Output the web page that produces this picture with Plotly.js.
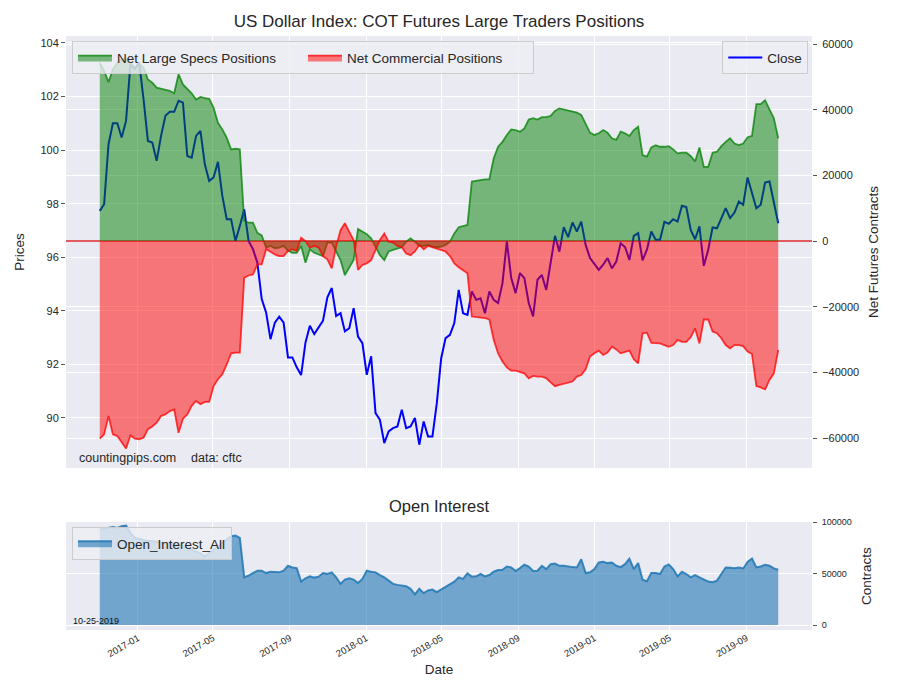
<!DOCTYPE html>
<html>
<head>
<meta charset="utf-8">
<script src="https://cdn.plot.ly/plotly-3.0.1.min.js"></script>
<style>
  body { margin: 0; background: #fff; }
  #grafico { width: 900px; height: 700px; }
</style>
</head>
<body>
<div id="grafico"></div>
<script>
// weekly COT report data, first report 2016-11-01, last 2019-10-22
const firstReport = '2016-11-01';

const closes = [
  97.73, 97.98, 100.22, 101.00, 101.00, 100.47, 101.09, 103.20, 103.02, 103.27,
  101.90, 100.34, 100.28, 99.60, 100.53, 101.28, 101.43, 101.43, 101.84, 101.77,
  99.78, 99.72, 100.53, 100.72, 99.47, 98.85, 98.98, 99.56, 98.29, 97.42,
  97.42, 96.61, 97.17, 97.79, 96.61, 96.30, 95.80, 94.44, 93.94, 92.94,
  93.56, 93.78, 93.56, 92.26, 92.26, 91.89, 91.60, 92.82, 93.44, 93.13,
  93.38, 93.63, 94.50, 94.85, 93.80, 93.91, 93.23, 93.35, 94.10, 93.04,
  92.79, 91.61, 92.30, 90.18, 89.93, 89.06, 89.50, 89.62, 89.68, 90.31,
  89.62, 89.68, 90.00, 89.00, 89.87, 89.31, 89.31, 90.55, 92.23, 92.98,
  93.10, 93.54, 94.78, 93.91, 93.85, 94.72, 94.41, 94.47, 93.91, 94.72,
  94.41, 94.29, 95.03, 96.59, 95.22, 94.66, 95.41, 95.22, 94.29, 93.79,
  95.16, 95.34, 94.78, 95.78, 96.80, 96.21, 97.12, 96.75, 97.30, 96.96,
  97.33, 96.46, 95.97, 95.75, 95.53, 95.72, 95.97, 95.58, 95.84, 96.52,
  96.38, 95.90, 96.80, 96.90, 95.88, 96.28, 96.96, 96.65, 96.65, 97.32,
  97.25, 97.42, 97.33, 97.92, 97.87, 97.02, 96.67, 97.15, 95.68, 96.28,
  97.11, 97.08, 97.46, 97.83, 97.46, 97.67, 98.08, 97.96, 98.98, 98.39,
  97.83, 97.96, 98.79, 98.83, 98.08, 97.27
];

const netSpecs = [
  54300, 51800, 48400, 52300, 54300, 55300, 55500, 54300, 52800, 53800,
  52800, 49200, 48200, 46700, 46400, 46000, 45700, 45000, 50800, 47700,
  46400, 45000, 43100, 43900, 43500, 43300, 40600, 36000, 34000, 31500,
  27900, 28100, 27900, 6100, 5600, 5600, 2500, 1700, -2000, -1500,
  -2200, -2000, -1500, -3000, -3600, -3600, -1500, -6600, -2500, -3600,
  -4100, -4600, -500, -500, -3200, -5800, -10400, -8300, -5800, 3700,
  2800, 2100, 800, -1700, -4300, -5800, -3200, -2700, -2200, -1900,
  -200, 800, -200, -1500, -1500, -1200, -1700, -1900, -1700, -1200,
  -200, 2300, 4200, 4600, 4900, 18100, 18400, 18600, 18800, 18800,
  25200, 28700, 30200, 32300, 34000, 33800, 33300, 34300, 37000, 37400,
  37000, 37700, 37700, 38100, 39600, 40400, 40100, 39900, 39400, 39100,
  38400, 35800, 33000, 32300, 32800, 33800, 33000, 31300, 30800, 33300,
  32800, 32000, 33800, 34800, 26200, 25700, 28500, 29200, 28700, 28700,
  28900, 27900, 26700, 26900, 26900, 25900, 24200, 28500, 22600, 22600,
  26900, 27200, 28900, 30200, 31300, 29700, 29200, 29700, 31600, 32000,
  41700, 41700, 42900, 40100, 37400, 31300
];

const netCommercial = [
  -60200, -58900, -53300, -58900, -59400, -61400, -63200, -59200, -60200, -60400,
  -59900, -57300, -56500, -55300, -53300, -52800, -51800, -51300, -58400, -54100,
  -52800, -50200, -48700, -49700, -49000, -49000, -44200, -42100, -40600, -37600,
  -34200, -34000, -34000, -11200, -10500, -10200, -7100, -7100, -2500, -3300,
  -4100, -4600, -4600, -3000, -2500, -3000, 1000, 0, -2000, -1500,
  -2000, -4600, -5600, -8300, -1700, 3300, 5400, 2800, 300, -8800,
  -7300, -6800, -5800, -2700, 300, 2300, -200, -500, -1500, -1900,
  -3800, -4300, -3200, -1200, -2500, -1500, -1900, -2500, -2700, -3200,
  -4600, -6800, -8000, -9000, -9800, -23000, -23200, -23200, -23500, -23900,
  -30100, -34200, -36700, -38500, -39500, -39500, -39800, -40300, -41800, -41100,
  -41300, -41300, -41800, -43100, -44200, -43800, -43500, -43300, -42800, -41300,
  -40800, -39100, -35200, -34200, -33400, -34700, -34000, -32200, -33000, -34200,
  -33700, -33400, -36000, -37300, -28100, -27900, -31000, -31200, -31200, -31700,
  -32200, -31700, -30100, -30700, -30700, -29300, -26600, -31200, -23900, -23900,
  -27600, -28100, -29600, -31700, -32700, -31700, -31700, -32000, -33700, -34400,
  -44200, -44600, -45200, -42300, -40300, -33200
];

const openInterest = [
  93000, 93600, 94500, 95500, 94500, 96200, 96800, 89700, 84900, 84000,
  82700, 81700, 81700, 80800, 80100, 79500, 80100, 78500, 77600, 76900,
  75300, 73700, 72100, 69900, 66700, 69900, 73700, 76900, 80100, 83300,
  86500, 87200, 84900, 46500, 48100, 50600, 52900, 52900, 50600, 51900,
  51900, 51300, 52900, 57700, 56100, 55400, 42300, 45500, 47400, 46200,
  47100, 50600, 49700, 51300, 46500, 40100, 44200, 45500, 44200, 41000,
  44900, 52900, 51900, 51300, 48700, 46500, 43300, 40100, 39100, 38500,
  37800, 35300, 29800, 35300, 31100, 33700, 34600, 32100, 34600, 36900,
  39100, 42300, 46500, 44900, 50300, 47100, 47400, 49700, 47400, 48700,
  51900, 53500, 53800, 57000, 56100, 52600, 55400, 58700, 57000, 52600,
  52900, 57700, 54500, 59300, 59900, 57700, 57700, 56700, 56400, 56100,
  64100, 50600, 51300, 54500, 60900, 61500, 60300, 60900, 57700, 56400,
  59300, 64700, 54500, 60300, 44200, 42600, 50600, 50600, 49700, 57000,
  59000, 54500, 47400, 51900, 49700, 46500, 48700, 46500, 44200, 42300,
  41700, 43300, 49700, 56100, 55800, 55400, 56100, 55100, 61500, 64700,
  56100, 57000, 58700, 57700, 55100, 53800
];

// datas semanais dos relatorios
var datas = [];
var d0 = new Date(firstReport + 'T00:00:00Z');
for (var i = 0; i < closes.length; i++) {
  var d = new Date(d0.getTime() + i * 7 * 86400000);
  datas.push(d.toISOString().slice(0, 10));
}

var fonte = 'Liberation Sans, Arial, sans-serif';
var caixaLegenda = {
  bgcolor: 'rgba(238,238,244,0.8)',
  bordercolor: '#cccccc',
  borderwidth: 1,
  itemwidth: 34,
  font: {size: 13.5, color: '#262626'}
};

var trClose = {
  x: datas, y: closes, name: 'Close',
  type: 'scatter', mode: 'lines',
  xaxis: 'x', yaxis: 'y',
  line: {color: '#0000ff', width: 2},
  legend: 'legend2'
};

var trSpecs = {
  x: datas, y: netSpecs, name: 'Net Large Specs Positions',
  type: 'scatter', mode: 'lines', fill: 'tozeroy',
  fillcolor: 'rgba(0,128,0,0.5)',
  xaxis: 'x', yaxis: 'y2',
  line: {color: 'rgba(0,128,0,0.75)', width: 1.8},
  legend: 'legend'
};

var trComm = {
  x: datas, y: netCommercial, name: 'Net Commercial Positions',
  type: 'scatter', mode: 'lines', fill: 'tozeroy',
  fillcolor: 'rgba(255,0,0,0.5)',
  xaxis: 'x', yaxis: 'y2',
  line: {color: 'rgba(255,0,0,0.75)', width: 1.8},
  legend: 'legend'
};

var trOI = {
  x: datas, y: openInterest, name: 'Open_Interest_All',
  type: 'scatter', mode: 'lines', fill: 'tozeroy',
  fillcolor: 'rgba(31,119,180,0.6)',
  xaxis: 'x2', yaxis: 'y3',
  line: {color: 'rgba(31,119,180,0.85)', width: 2},
  legend: 'legend3'
};

var eixoX = {
  type: 'date',
  range: ['2016-09-08', '2019-12-15'],
  tick0: '2017-01-01', dtick: 'M4',
  gridcolor: '#ffffff', gridwidth: 1,
  zeroline: false, showline: false
};

var layout = {
  width: 900, height: 700,
  paper_bgcolor: '#ffffff',
  plot_bgcolor: '#eaeaf2',
  font: {family: fonte, color: '#262626', size: 11},
  margin: {l: 66, r: 88, t: 36, b: 70},
  showlegend: true,
  title: {
    text: 'US Dollar Index: COT Futures Large Traders Positions',
    font: {size: 17, color: '#262626'},
    xref: 'paper', x: 0.5, xanchor: 'center',
    yref: 'container', y: 0.97, yanchor: 'middle'
  },
  xaxis: Object.assign({}, eixoX, {
    domain: [0, 1], anchor: 'y', showticklabels: false, ticks: ''
  }),
  xaxis2: Object.assign({}, eixoX, {
    domain: [0, 1], anchor: 'y3', matches: 'x',
    tickformat: '%Y-%m', tickangle: -30,
    tickfont: {size: 9.5, color: '#262626'},
    ticks: '',
    title: {text: 'Date', font: {size: 13.5}, standoff: 6}
  }),
  yaxis: {
    domain: [0.2727, 1], anchor: 'x',
    range: [88.13, 104.26], tick0: 90, dtick: 2,
    ticks: 'outside', ticklen: 4, tickcolor: '#555555',
    tickfont: {size: 11},
    gridcolor: '#ffffff', zeroline: false, showline: false,
    title: {text: 'Prices', font: {size: 13.5}, standoff: 12}
  },
  yaxis2: {
    overlaying: 'y', side: 'right', anchor: 'x',
    range: [-69137, 62436], tick0: 0, dtick: 20000, tickformat: 'd',
    ticks: 'outside', ticklen: 4, tickcolor: '#555555',
    ticklabelstandoff: 3,
    tickfont: {size: 11},
    gridcolor: '#ffffff',
    zeroline: true, zerolinecolor: 'rgba(220,30,30,0.7)', zerolinewidth: 1.2,
    showline: false,
    title: {text: 'Net Futures Contracts', font: {size: 13.5}, standoff: 10}
  },
  yaxis3: {
    domain: [0, 0.1818], anchor: 'x2', side: 'right',
    range: [-4800, 100300], tickvals: [0, 50000, 100000], tickformat: 'd',
    ticks: 'outside', ticklen: 4, tickcolor: '#555555',
    ticklabelstandoff: 3,
    tickfont: {size: 9},
    gridcolor: '#ffffff', zeroline: false, showline: false,
    title: {text: 'Contracts', font: {size: 13.5}, standoff: 10}
  },
  legend: Object.assign({}, caixaLegenda, {
    x: 0.008, y: 0.991, xanchor: 'left', yanchor: 'top',
    orientation: 'h', entrywidth: 181
  }),
  legend2: Object.assign({}, caixaLegenda, {
    x: 0.995, y: 0.991, xanchor: 'right', yanchor: 'top'
  }),
  legend3: Object.assign({}, caixaLegenda, {
    x: 0.008, y: 0.1734, xanchor: 'left', yanchor: 'top'
  }),
  annotations: [
    {text: 'countingpips.com', xref: 'paper', yref: 'paper', x: 0.0147, y: 0.2896,
     xanchor: 'left', yanchor: 'middle', showarrow: false, font: {size: 12.5, color: '#262626'}},
    {text: 'data: cftc', xref: 'paper', yref: 'paper', x: 0.165, y: 0.2896,
     xanchor: 'left', yanchor: 'middle', showarrow: false, font: {size: 12.5, color: '#262626'}},
    {text: 'Open Interest', xref: 'paper', yref: 'paper', x: 0.5, y: 0.2088,
     xanchor: 'center', yanchor: 'middle', showarrow: false, font: {size: 16.5, color: '#262626'}},
    {text: '10-25-2019', xref: 'paper', yref: 'paper', x: 0.0063, y: 0.0152,
     xanchor: 'left', yanchor: 'middle', showarrow: false, font: {size: 9, color: '#111111'}}
  ]
};

Plotly.newPlot('grafico', [trClose, trSpecs, trComm, trOI], layout, {staticPlot: true, displayModeBar: false});
</script>
</body>
</html>
